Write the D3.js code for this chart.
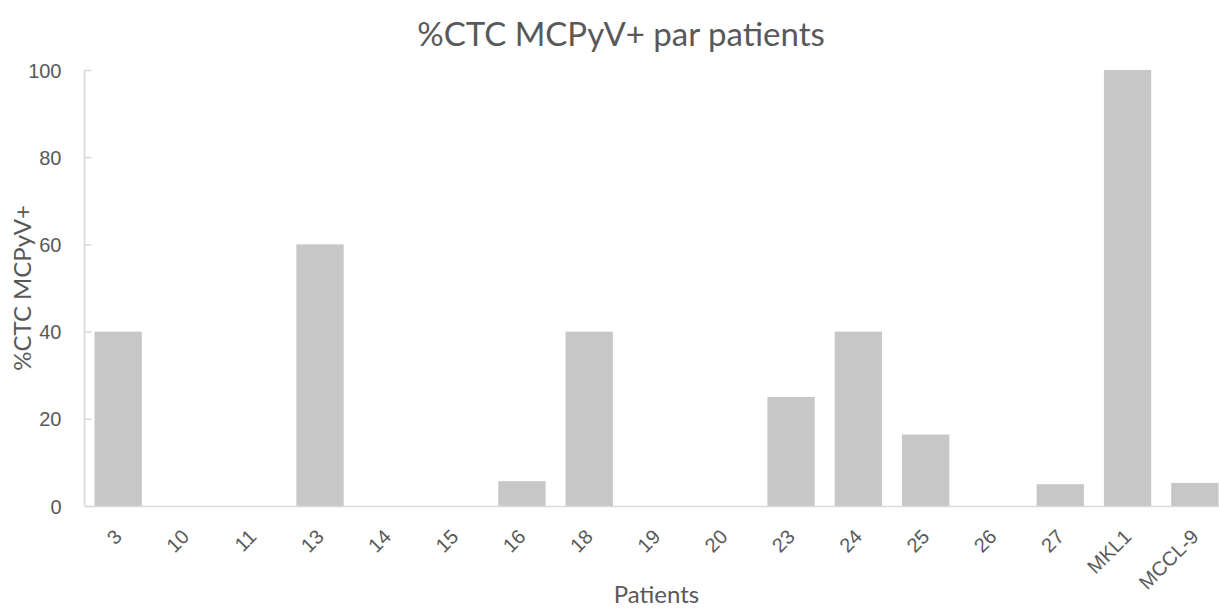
<!DOCTYPE html>
<html>
<head>
<meta charset="utf-8">
<script src="https://cdn.jsdelivr.net/npm/d3@7"></script>
<style>
  html, body { margin: 0; padding: 0; background: #fff; }
  svg { display: block; font-family: Lato, "Open Sans", sans-serif; }
</style>
</head>
<body>
<svg id="chart" width="1219" height="608"></svg>
<script>
// Patients and the share of MCPyV+ circulating tumour cells for each one
const patients = ["3", "10", "11", "13", "14", "15", "16", "18", "19", "20", "23", "24", "25", "26", "27", "MKL1", "MCCL-9"];
const ctcPercent = [40, 0, 0, 60, 0, 0, 5.7, 40, 0, 0, 25, 40, 16.4, 0, 5, 100, 5.3];
const yTicks = [0, 20, 40, 60, 80, 100];

const titleText = "%CTC MCPyV+ par patients";
const xTitle = "Patients";
const yTitle = "%CTC MCPyV+";

const svg = d3.select("#chart");
const textColor = "#595959";
const axisColor = "#d9d9d9";
const barColor = "#c7c7c7";

const plotLeft = 84.5, plotRight = 1228.5, plotTop = 70, plotBottom = 506;

const x = d3.scaleBand()
  .domain(patients)
  .range([plotLeft, plotRight])
  .paddingInner(0.297)
  .paddingOuter(0.1485);

const y = d3.scaleLinear()
  .domain([0, 100])
  .range([plotBottom, plotTop]);

// Bars
svg.append("g")
  .selectAll("rect")
  .data(patients.map((p, i) => ({ p, v: ctcPercent[i] })))
  .join("rect")
  .attr("x", d => x(d.p))
  .attr("y", d => y(d.v))
  .attr("width", x.bandwidth())
  .attr("height", d => y(0) - y(d.v))
  .attr("fill", barColor);

// Y axis with inward ticks
const yAxis = svg.append("g")
  .attr("transform", `translate(${plotLeft},0)`)
  .call(d3.axisRight(y).tickValues(yTicks).tickSize(7).tickFormat(d3.format("d")));
yAxis.select(".domain").attr("stroke", axisColor).attr("stroke-width", 1.6).attr("d", `M0,${plotTop}V${plotBottom}`);
yAxis.selectAll(".tick line").attr("stroke", axisColor).attr("stroke-width", 1.6);
yAxis.selectAll(".tick text")
  .attr("x", -23)
  .attr("dy", "0.35em")
  .attr("text-anchor", "end")
  .attr("fill", textColor)
  .style("font-size", "20px");

// X axis
const xAxis = svg.append("g")
  .attr("transform", `translate(0,${plotBottom})`)
  .call(d3.axisBottom(x).tickSize(0));
xAxis.select(".domain").attr("stroke", axisColor).attr("stroke-width", 1.6);
xAxis.selectAll(".tick text")
  .attr("fill", textColor)
  .style("font-size", "20px")
  .attr("text-anchor", "end")
  .attr("dy", 0)
  .attr("y", 0)
  .attr("transform", "translate(5,32) rotate(-45)");

// Titles
svg.append("text")
  .attr("x", 621)
  .attr("y", 46)
  .attr("text-anchor", "middle")
  .attr("fill", textColor)
  .style("font-size", "33px")
  .text(titleText);

svg.append("text")
  .attr("x", (plotLeft + plotRight) / 2)
  .attr("y", 603)
  .attr("text-anchor", "middle")
  .attr("fill", textColor)
  .style("font-size", "24px")
  .text(xTitle);

svg.append("text")
  .attr("transform", `translate(31,${(plotTop + plotBottom) / 2}) rotate(-90)`)
  .attr("text-anchor", "middle")
  .attr("fill", textColor)
  .style("font-size", "24px")
  .text(yTitle);
</script>
</body>
</html>
